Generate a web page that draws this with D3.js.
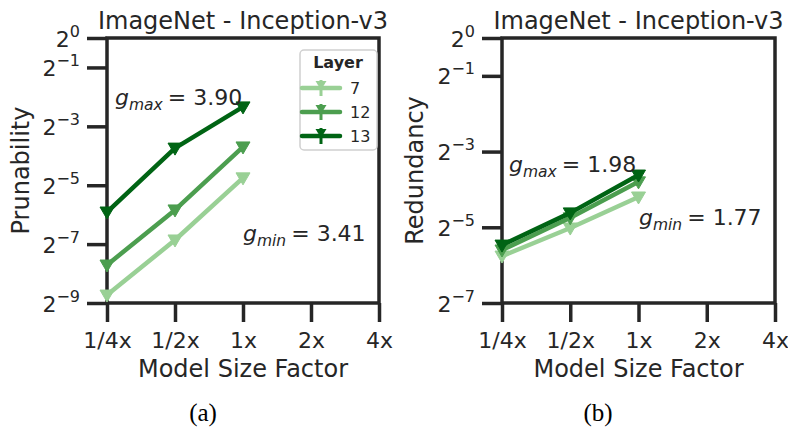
<!DOCTYPE html>
<html>
<head>
<meta charset="utf-8">
<script src="https://cdn.jsdelivr.net/npm/d3@7"></script>
<style>
  html, body { margin: 0; padding: 0; background: #fff; }
  svg { display: block; }
  text { font-family: "DejaVu Sans", sans-serif; fill: #262626; }
</style>
</head>
<body>
<svg id="chart" width="788" height="430"></svg>
<script>
// ---------------- data ----------------
const factors = [0.25, 0.5, 1];
const xTickValues = [0.25, 0.5, 1, 2, 4];
const xTickLabels = ["1/4x", "1/2x", "1x", "2x", "4x"];
const layers = ["7", "12", "13"];
const layerColors = ["#99d095", "#4c9e4f", "#006414"];

const prunability7  = [0.002355, 0.00861, 0.03716];
const prunability12 = [0.004776, 0.01746, 0.07694];
const prunability13 = [0.01663, 0.07484, 0.1975];

const redundancy7  = [0.01845, 0.03082, 0.05441];
const redundancy12 = [0.02062, 0.03716, 0.07179];
const redundancy13 = [0.02256, 0.04067, 0.08133];

const pruneTickExps = [0, -1, -3, -5, -7, -9];
const redTickExps = [0, -1, -3, -5, -7];

const titleText = "ImageNet - Inception-v3";
const xLabel = "Model Size Factor";

// ---------------- drawing ----------------
const svg = d3.select("#chart");
const ink = "#262626";

function drawPanel(cfg) {
  const g = svg.append("g");
  const x = d3.scaleLog().base(2).domain([0.25, 4]).range([cfg.left, cfg.right]);
  const y = d3.scaleLog().base(2).domain([Math.pow(2, cfg.minExp), 1]).range([cfg.bottom, cfg.top]);

  // x axis
  const xAxis = g.append("g").attr("transform", `translate(0,${cfg.bottom})`)
    .call(d3.axisBottom(x).tickValues(xTickValues)
      .tickFormat((d, i) => xTickLabels[i]).tickSize(19).tickPadding(6).tickSizeOuter(0));
  xAxis.select(".domain").remove();
  xAxis.selectAll(".tick line").attr("stroke", ink).attr("stroke-width", 3.5);
  xAxis.selectAll(".tick text").attr("font-size", 22).attr("fill", ink)
    .attr("font-family", "DejaVu Sans").attr("dy", "0.9em");

  // y axis
  const yAxis = g.append("g").attr("transform", `translate(${cfg.left},0)`)
    .call(d3.axisLeft(y).tickValues(cfg.tickExps.map(e => Math.pow(2, e)))
      .tickFormat(() => "").tickSize(20).tickSizeOuter(0));
  yAxis.select(".domain").remove();
  yAxis.selectAll(".tick line").attr("stroke", ink).attr("stroke-width", 3.5);
  yAxis.selectAll(".tick").each(function(d) {
    const exp = Math.round(Math.log2(d));
    const t = d3.select(this).select("text");
    t.text(null).attr("x", -27).attr("dy", null).attr("y", 8)
      .attr("text-anchor", "end").attr("font-size", 22).attr("fill", ink)
      .attr("font-family", "DejaVu Sans");
    t.append("tspan").text("2");
    t.append("tspan").attr("font-size", 16).attr("dy", -10)
      .text(exp === 0 ? "0" : "\u2212" + Math.abs(exp));
  });

  // frame
  g.append("rect").attr("x", cfg.left).attr("y", cfg.top)
    .attr("width", cfg.right - cfg.left).attr("height", cfg.bottom - cfg.top)
    .attr("fill", "none").attr("stroke", ink).attr("stroke-width", 3.5);

  // series
  const line = d3.line().x((d, i) => x(factors[i])).y(d => y(d));
  cfg.series.forEach((vals, k) => {
    const col = layerColors[k];
    g.append("path").datum(vals).attr("d", line)
      .attr("fill", "none").attr("stroke", col).attr("stroke-width", 4.5)
      .attr("stroke-linejoin", "round");
    g.selectAll(null).data(vals).enter().append("path")
      .attr("transform", (d, i) => `translate(${x(factors[i])},${y(d)})`)
      .attr("d", "M-7,-5 L7,-5 L0,7 Z")
      .attr("fill", col).attr("stroke", col).attr("stroke-width", 1);
  });

  // annotations
  function annot(ax, ay, sub, val) {
    const t = g.append("text").attr("x", ax).attr("y", ay).attr("font-size", 22).attr("fill", ink);
    t.append("tspan").attr("font-style", "italic").text("g");
    t.append("tspan").attr("font-style", "italic").attr("font-size", 15.5).attr("dy", 5).text(sub);
    t.append("tspan").attr("dy", -5).attr("dx", 5).text("= " + val);
  }
  annot(cfg.gmax[0], cfg.gmax[1], "max", cfg.gmax[2]);
  annot(cfg.gmin[0], cfg.gmin[1], "min", cfg.gmin[2]);

  // title
  g.append("text").attr("x", (cfg.left + cfg.right) / 2).attr("y", 29)
    .attr("text-anchor", "middle").attr("font-size", 24).text(titleText);
  // x label
  g.append("text").attr("x", (cfg.left + cfg.right) / 2).attr("y", 377)
    .attr("text-anchor", "middle").attr("font-size", 24).text(xLabel);
  // y label
  g.append("text").attr("transform", `translate(${cfg.ylabelX},${(cfg.top + cfg.bottom) / 2}) rotate(-90)`)
    .attr("text-anchor", "middle").attr("font-size", 24).text(cfg.ylabel);
  // caption
  g.append("text").attr("x", cfg.capX).attr("y", 421)
    .attr("text-anchor", "middle").attr("font-size", 25)
    .style("font-family", "'Liberation Serif', 'Times New Roman', serif").style("fill", "#000")
    .text(cfg.caption);
  return g;
}

const gA = drawPanel({
  left: 107, right: 379, top: 38, bottom: 303, minExp: -9, tickExps: pruneTickExps,
  series: [prunability7, prunability12, prunability13],
  gmax: [115, 105, "3.90"], gmin: [243, 241, "3.41"],
  ylabel: "Prunability", ylabelX: 29, caption: "(a)", capX: 203
});

drawPanel({
  left: 502, right: 775, top: 38, bottom: 303, minExp: -7, tickExps: redTickExps,
  series: [redundancy7, redundancy12, redundancy13],
  gmax: [509, 172, "1.98"], gmin: [639, 225, "1.77"],
  ylabel: "Redundancy", ylabelX: 423, caption: "(b)", capX: 598
});

// legend (panel a)
const leg = gA.append("g");
leg.append("rect").attr("x", 300).attr("y", 50).attr("width", 77).attr("height", 100)
  .attr("rx", 4).attr("fill", "#fff").attr("fill-opacity", 0.85)
  .attr("stroke", "#d0d0d0").attr("stroke-width", 1.5);
leg.append("text").attr("x", 338).attr("y", 68).attr("text-anchor", "middle")
  .attr("font-size", 16).attr("font-weight", "bold").text("Layer");
const legY = [88, 112, 136];
layers.forEach((name, k) => {
  const col = layerColors[k];
  const yy = legY[k];
  leg.append("line").attr("x1", 302).attr("x2", 340).attr("y1", yy).attr("y2", yy)
    .attr("stroke", col).attr("stroke-width", 4.5).attr("stroke-linecap", "round");
  leg.append("line").attr("x1", 321).attr("x2", 321).attr("y1", yy - 8).attr("y2", yy + 8)
    .attr("stroke", col).attr("stroke-width", 3);
  leg.append("path").attr("transform", `translate(321,${yy - 2})`)
    .attr("d", "M-5.5,-5 L5.5,-5 L0,4 Z").attr("fill", col);
  leg.append("text").attr("x", 350).attr("y", yy + 6).attr("font-size", 16).text(name);
});
</script>
</body>
</html>
